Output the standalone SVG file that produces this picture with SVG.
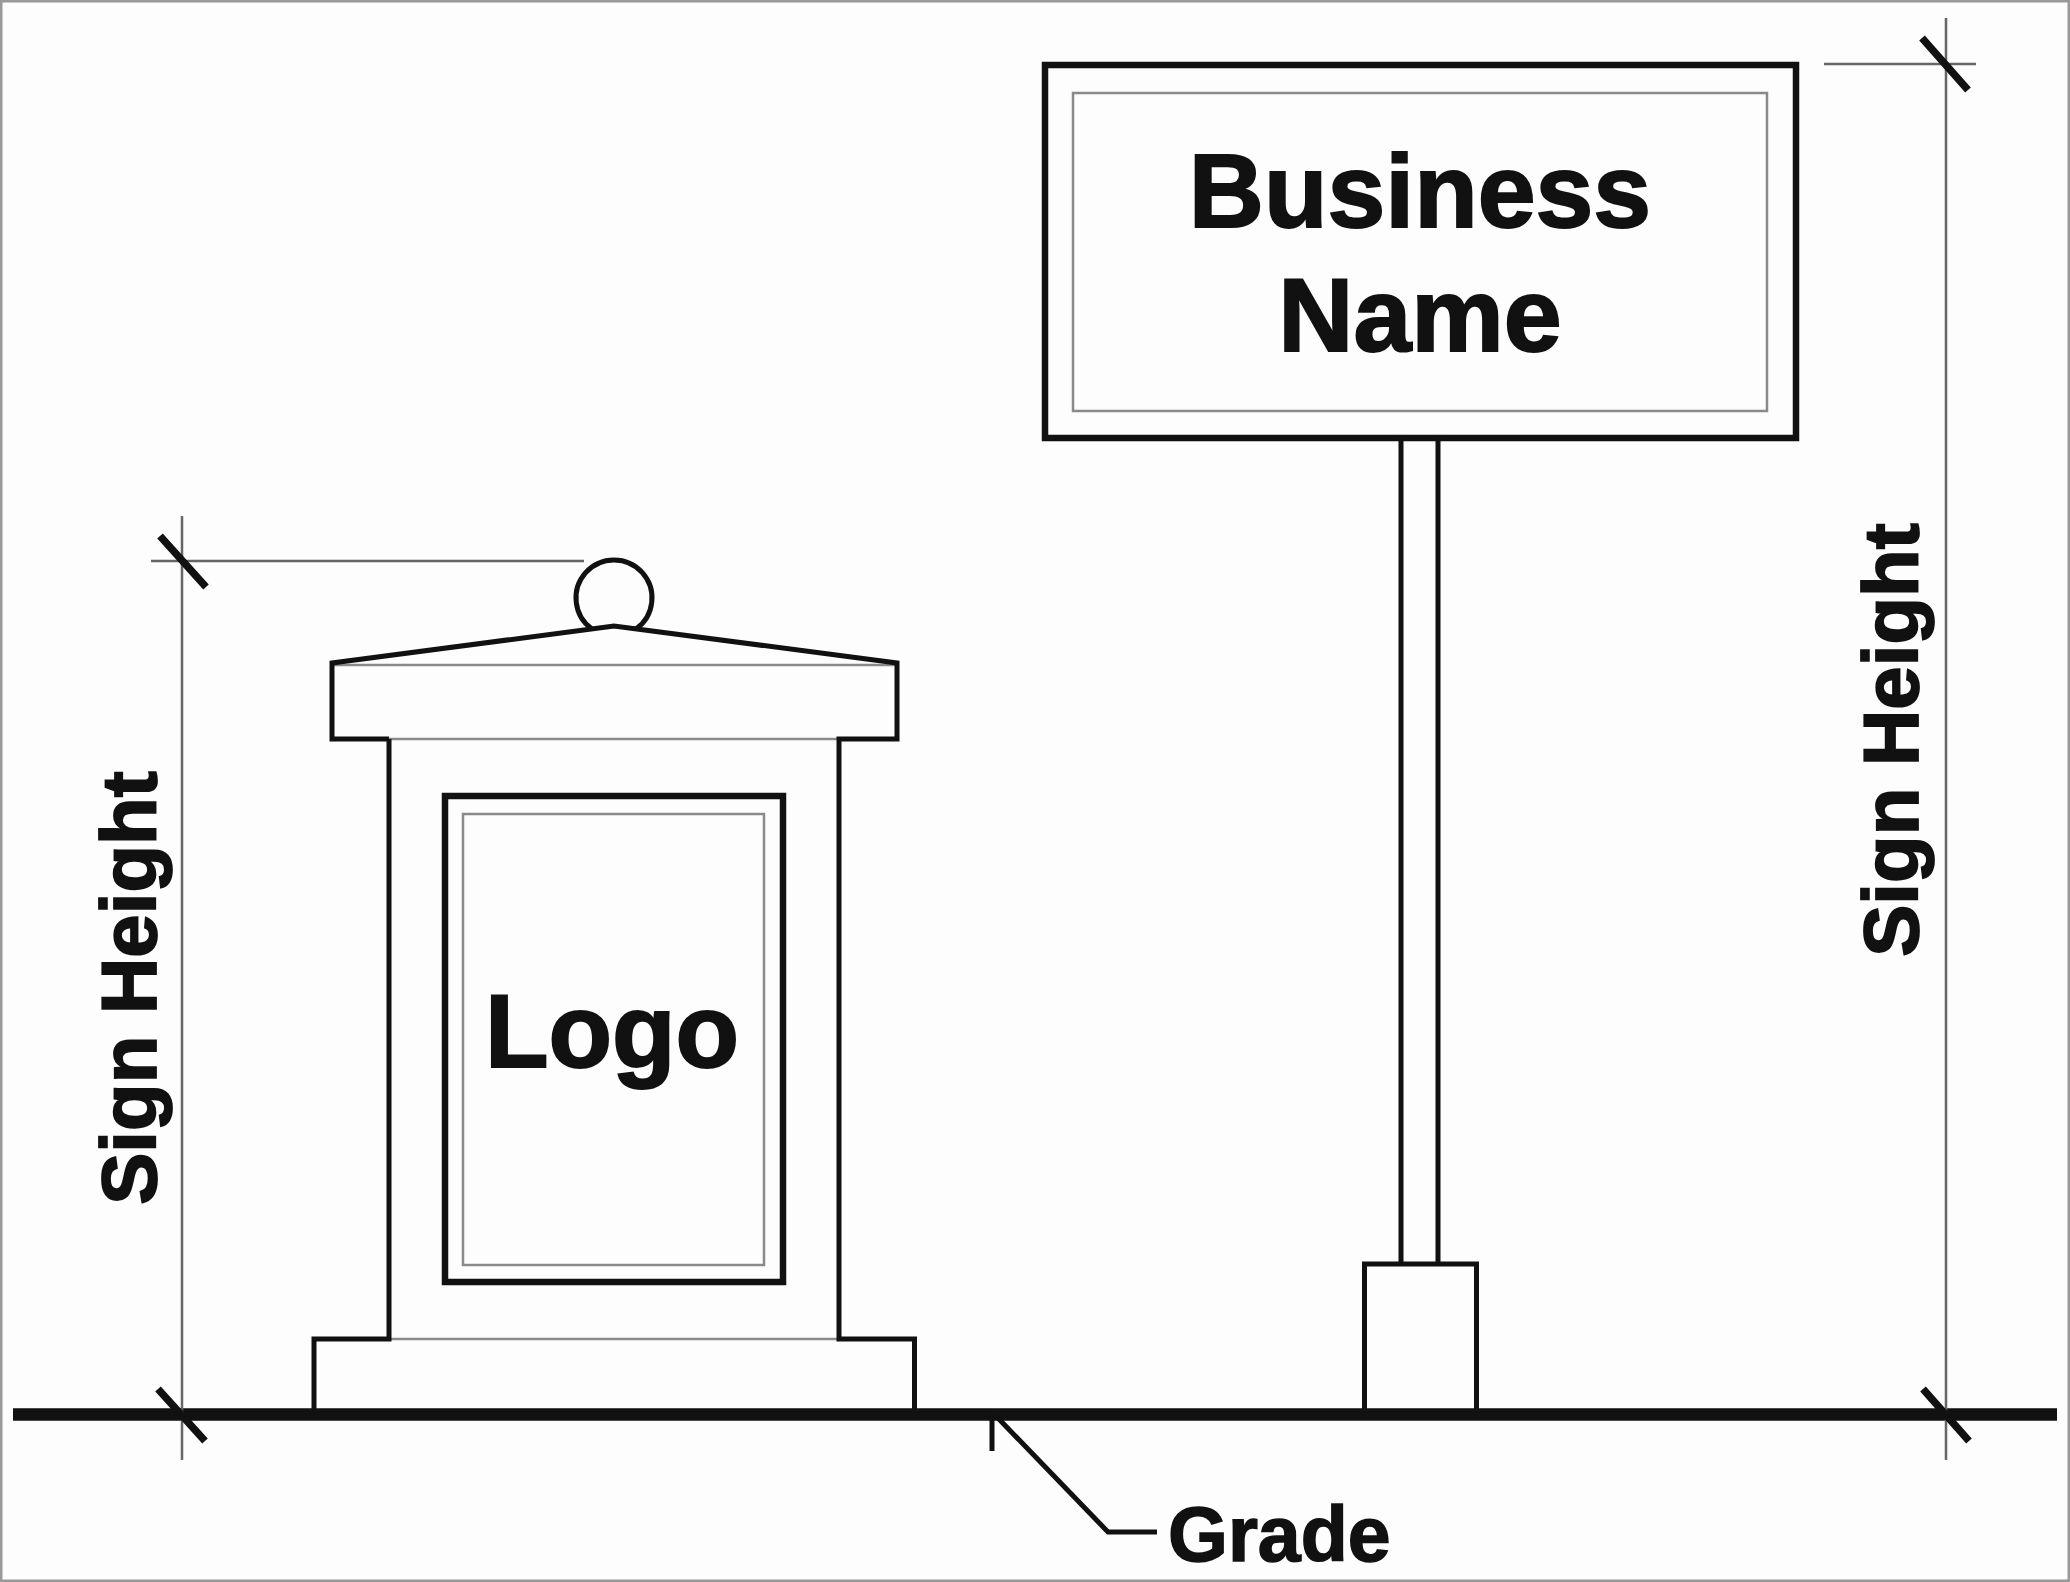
<svg xmlns="http://www.w3.org/2000/svg" width="2070" height="1582" viewBox="0 0 2070 1582">
<style>
.k{fill:none;stroke:#111;stroke-width:5;stroke-linecap:butt;stroke-linejoin:miter}
.f{fill:none;stroke:#111;stroke-width:6.500}
.thin{fill:none;stroke:#8a8a8a;stroke-width:2.500}
.dim{fill:none;stroke:#666;stroke-width:2.500}
.tick{fill:none;stroke:#111;stroke-width:7.500}
text{font-family:"Liberation Sans",Arial,sans-serif;font-weight:700;fill:#111;stroke:#111}
.big{font-size:104px;text-anchor:middle;stroke-width:2}
.mid{font-size:78px;text-anchor:middle;stroke-width:1.800}
.low{font-size:77px;stroke-width:1.500}
</style>
<rect x="1" y="1" width="2068" height="1580" fill="#fdfdfd" stroke="#999" stroke-width="3"/>
<g id="monument-sign">
<path class="k" d="M592 629A38 38 0 1 1 636 629"/>
<path class="thin" d="M332 665H897M389 739H839M389 1339H839"/>
<path class="k" d="M389 739H332V663L614 626L897 663V739H839V1339H914.500V1413M389 739V1339H314V1413"/>
<rect class="f" x="445" y="796" width="338" height="486"/>
<rect class="thin" x="463" y="814" width="301" height="451"/>
<text class="big" x="612" y="1067">Logo</text>
</g>
<g id="pole-sign">
<rect class="f" x="1045" y="65" width="751" height="373"/>
<rect class="thin" x="1073" y="93" width="694" height="318"/>
<text class="big" x="1420" y="227">Business</text>
<text class="big" x="1420" y="351">Name</text>
<path class="k" d="M1401 439V1263M1438 439V1263M1364.500 1413V1264H1476.500V1413"/>
</g>
<g id="ground">
<path d="M13 1414.500H2057" fill="none" stroke="#111" stroke-width="12.500"/>
</g>
<g id="connectors">
<path class="dim" d="M182 516V1460M151 561H584"/>
<path class="tick" d="M160 536L206 587M158 1389L205 1441"/>
<path class="dim" d="M1946 18V1460M1824 64H1976"/>
<path class="tick" d="M1922 38L1968 90M1923 1389L1969 1441"/>
<path class="k" d="M992 1415V1451M996 1416L1108 1532H1157"/>
</g>
<g id="labels">
<text class="mid" transform="translate(156 988) rotate(-90)">Sign Height</text>
<text class="mid" transform="translate(1918 740) rotate(-90)">Sign Height</text>
<text class="low" x="1168" y="1561">Grade</text>
</g>
</svg>
